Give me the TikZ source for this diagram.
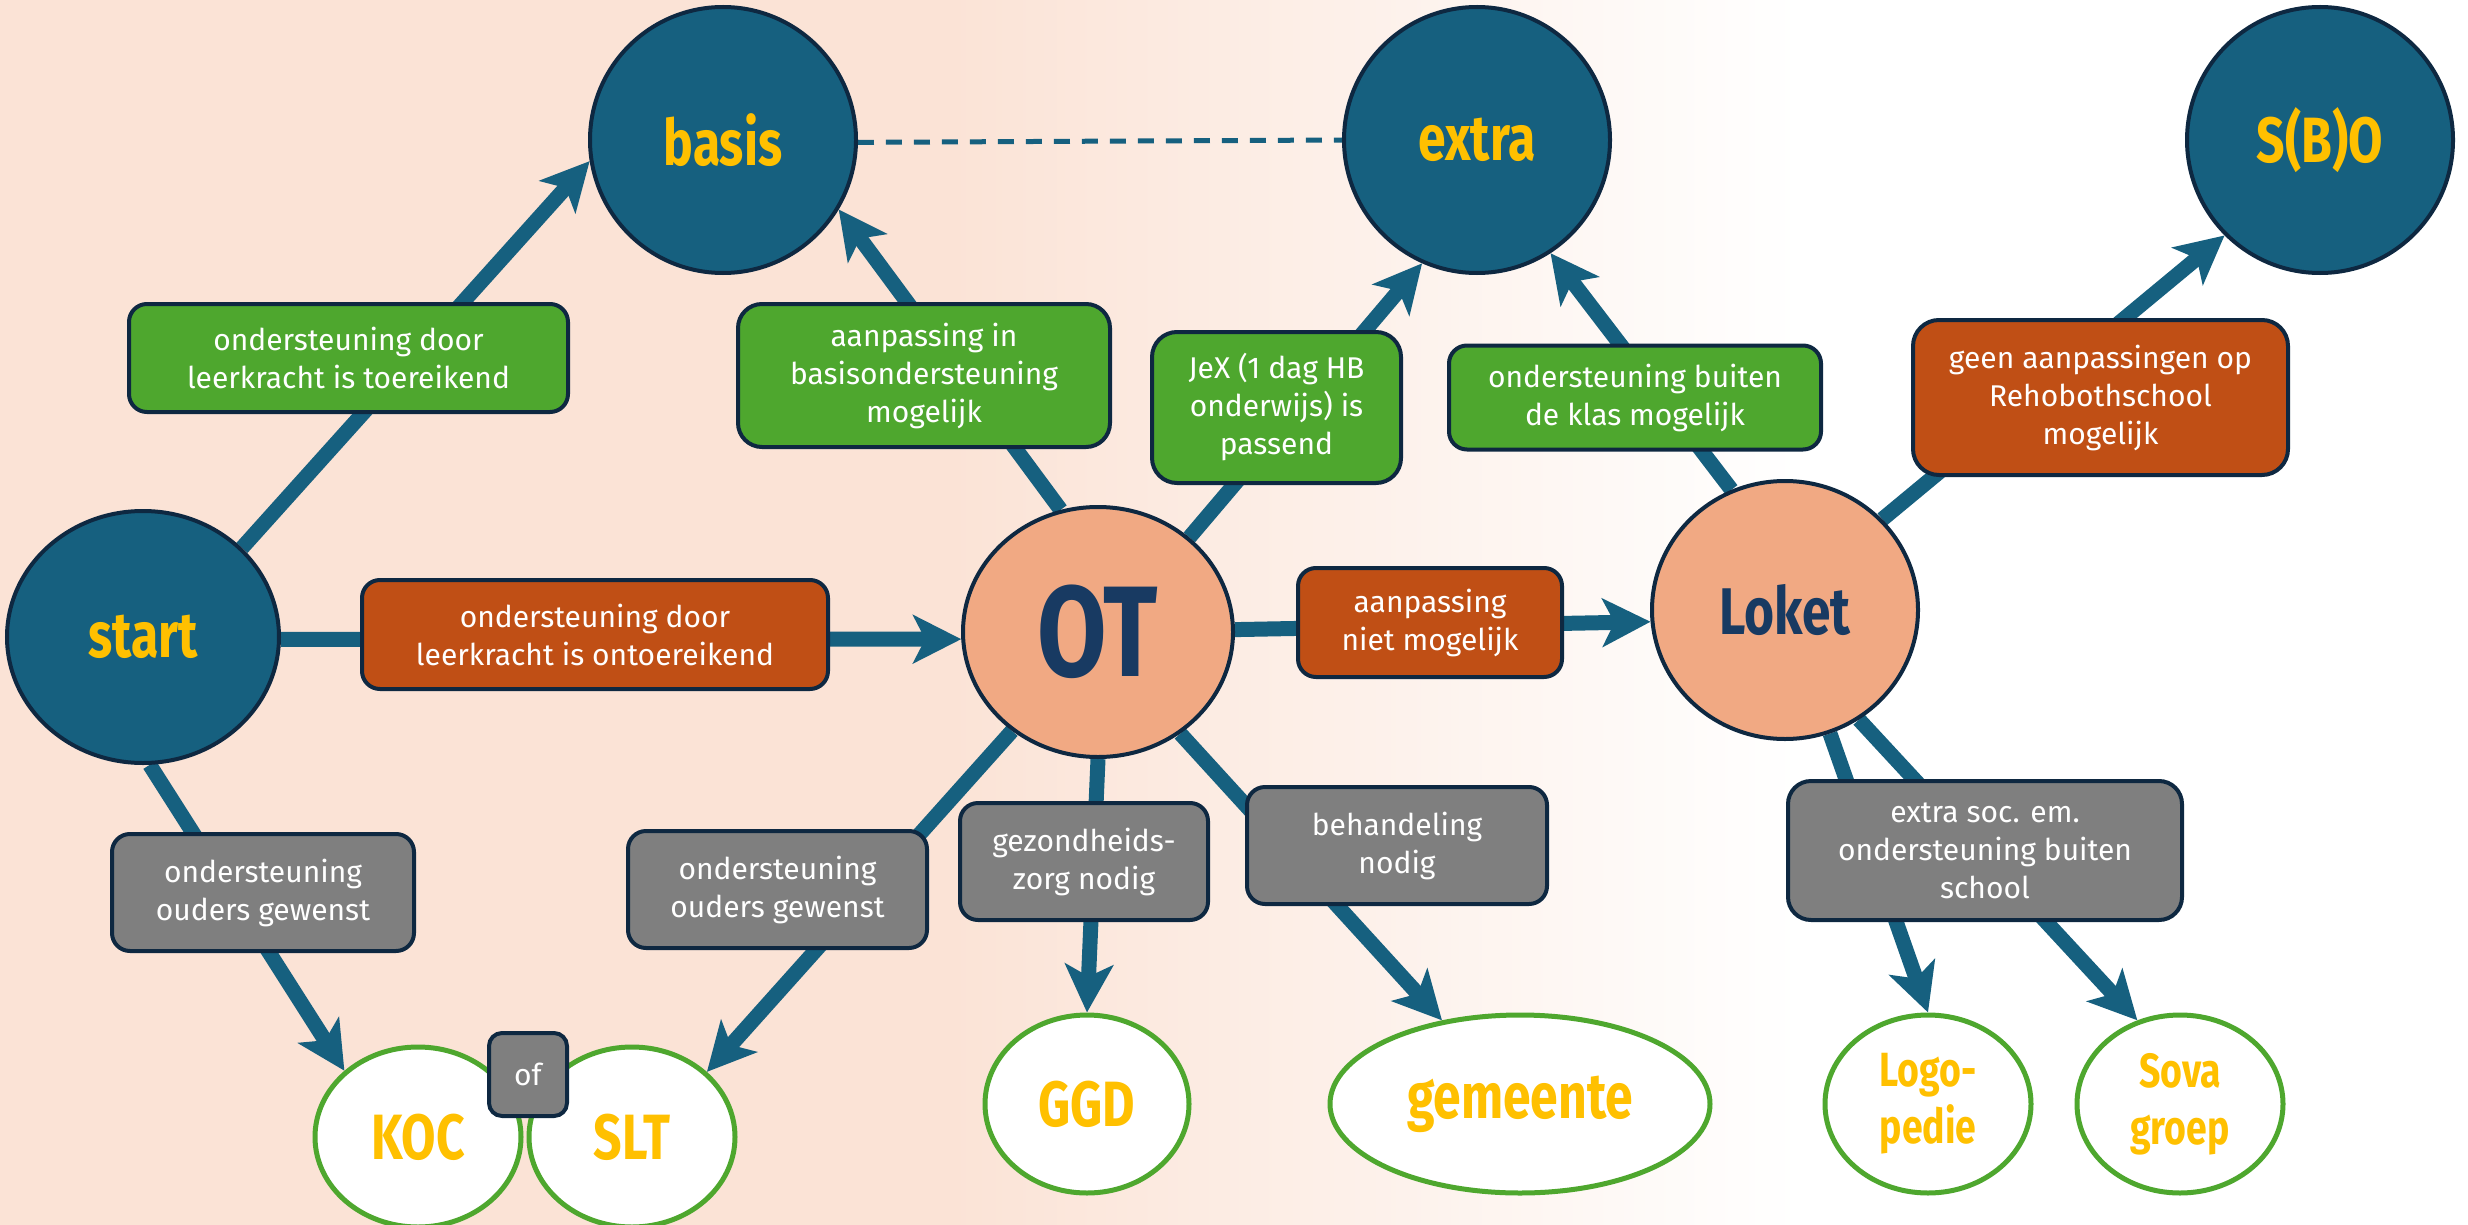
\documentclass[tikz,border=0pt]{standalone}
\usepackage{fontspec}
\setmainfont{Fira Sans}
\newfontfamily\labfont{Fira Sans}[FakeStretch=0.78]
\usetikzlibrary{arrows.meta,shapes.geometric}
\definecolor{bgpeach}{HTML}{FBE3D6}
\definecolor{dblue}{HTML}{16607F}
\definecolor{cblue}{HTML}{16607F}
\definecolor{outl}{HTML}{0E2841}
\definecolor{yel}{HTML}{FFC000}
\definecolor{peachot}{HTML}{F1A983}
\definecolor{navytxt}{HTML}{183A62}
\definecolor{grn}{HTML}{4EA72E}
\definecolor{org}{HTML}{C04F15}
\definecolor{gry}{HTML}{7F7F7F}
\pgfdeclarelayer{bg}
\pgfdeclarelayer{links}
\pgfsetlayers{bg,links,main}
\tikzset{
  lab/.style={font=\labfont\bfseries\fontsize{64}{57}\selectfont},
  smalllab/.style={font=\labfont\bfseries\fontsize{48}{57}\selectfont},
  circ/.style={ellipse, draw=outl, line width=4pt, fill=dblue, inner sep=0pt, text=yel, lab},
  pcirc/.style={ellipse, draw=outl, line width=4pt, fill=peachot, inner sep=0pt, text=navytxt, lab},
  wcirc/.style={ellipse, draw=grn, line width=5pt, fill=white, inner sep=0pt, text=yel, align=center, lab},
  box/.style={draw=outl, line width=4pt, rounded corners=18pt, text=white, align=center, inner sep=0pt,
    font=\fontsize{30}{38}\selectfont},
  gbox/.style={box, fill=grn},
  obox/.style={box, fill=org},
  ybox/.style={box, fill=gry},
  conn/.style={draw=cblue, line width=15pt, -{Stealth[length=48pt,width=48pt,inset=12pt]}},
  dashline/.style={draw=cblue, line width=5pt, dash pattern=on 16pt off 12pt}
}
\begin{document}
\begin{tikzpicture}[x=1pt,y=-1pt]
\useasboundingbox (0,0) rectangle (2468,1225);
\begin{pgfonlayer}{bg}
  \fill[bgpeach] (0,0) rectangle (952,1225);
  \shade[left color=bgpeach, right color=white] (950,0) rectangle (1800,1225);
  \fill[white] (1798,0) rectangle (2468,1225);
\end{pgfonlayer}

% main circles
\node[circ, minimum width=272pt, minimum height=252pt] (start) at (143,637) {start};
\node[circ, minimum width=266pt, minimum height=266pt] (basis) at (723,140) {basis};
\node[circ, minimum width=266pt, minimum height=266pt] (extra) at (1477,140) {extra};
\node[circ, minimum width=266pt, minimum height=266pt] (sbo) at (2320,140) {S(B)O};
\node[pcirc, minimum width=270pt, minimum height=250pt, font=\labfont\bfseries\fontsize{129}{129}\selectfont] (OT) at (1098,632) {OT};
\node[pcirc, minimum width=266pt, minimum height=258pt, font=\labfont\bfseries\fontsize{66}{66}\selectfont] (loket) at (1785,610) {Loket};

% white ellipses
\node[wcirc, minimum width=206pt, minimum height=180pt] (koc) at (418,1137) {KOC};
\node[wcirc, minimum width=206pt, minimum height=180pt] (slt) at (632,1137) {SLT};
\node[wcirc, minimum width=204pt, minimum height=178pt] (ggd) at (1087,1104) {GGD};
\node[wcirc, minimum width=380pt, minimum height=178pt] (gem) at (1520,1104) {gemeente};
\node[wcirc, smalllab, minimum width=206pt, minimum height=178pt] (logo) at (1928,1104) {Logo-\\pedie};
\node[wcirc, smalllab, minimum width=206pt, minimum height=178pt] (sova) at (2180,1104) {Sova\\groep};
\node[ybox, rounded corners=13pt, minimum width=78pt, minimum height=83pt] (ofbox) at (528,1074.5) {of};

% label boxes
\node[gbox, minimum width=439pt, minimum height=108pt] (b1) at (348.5,358) {ondersteuning door\\leerkracht is toereikend};
\node[obox, minimum width=466pt, minimum height=109pt] (b2) at (595,634.5) {ondersteuning door\\leerkracht is ontoereikend};
\node[gbox, rounded corners=24pt, minimum width=372pt, minimum height=143pt] (b3) at (924,375.5) {aanpassing in\\basisondersteuning\\mogelijk};
\node[gbox, rounded corners=25pt, minimum width=249pt, minimum height=151pt] (b4) at (1276.5,407.5) {JeX (1 dag HB\\onderwijs) is\\passend};
\node[gbox, minimum width=372pt, minimum height=104pt] (b5) at (1635,397.5) {ondersteuning buiten\\de klas mogelijk};
\node[obox, rounded corners=26pt, minimum width=375pt, minimum height=155pt] (b6) at (2100.5,397.5) {geen aanpassingen op\\Rehobothschool\\mogelijk};
\node[obox, minimum width=264pt, minimum height=109pt] (b7) at (1430,622.5) {aanpassing\\niet mogelijk};
\node[ybox, minimum width=302pt, minimum height=117pt] (b8) at (263,892.5) {ondersteuning\\ouders gewenst};
\node[ybox, minimum width=299pt, minimum height=117pt] (b9) at (777.5,889.5) {ondersteuning\\ouders gewenst};
\node[ybox, minimum width=248pt, minimum height=117pt] (b10) at (1084,861.5) {gezondheids-\\zorg nodig};
\node[ybox, minimum width=300pt, minimum height=117pt] (b11) at (1397,845.5) {behandeling\\nodig};
\node[ybox, rounded corners=23pt, minimum width=394pt, minimum height=139pt] (b12) at (1985,850.5) {extra soc. em.\\ondersteuning buiten\\school};

% connectors
\begin{pgfonlayer}{links}
  \draw[conn] (start.42.5) -- (basis.189.5);
  \draw[conn] (start.-1) -- (OT.183);
  \draw[conn] (start.-87) -- (koc.138);
  \draw[conn] (OT.107.7) -- (basis.-31.5);
  \draw[conn] (OT.46) -- (extra.-114);
  \draw[conn] (OT.1.3) -- (loket.185.2);
  \draw[conn] (OT.229.6) -- (slt.41);
  \draw[conn] (OT.-90) -- (ggd.90);
  \draw[conn] (OT.-51) -- (gem.133);
  \draw[conn] (loket.114) -- (extra.-57);
  \draw[conn] (loket.43) -- (sbo.225);
  \draw[conn] (loket.-70) -- (logo.90);
  \draw[conn] (loket.-56) -- (sova.117);
  \draw[dashline] (basis.-1.5) -- (extra.180);
\end{pgfonlayer}
\end{tikzpicture}
\end{document}
